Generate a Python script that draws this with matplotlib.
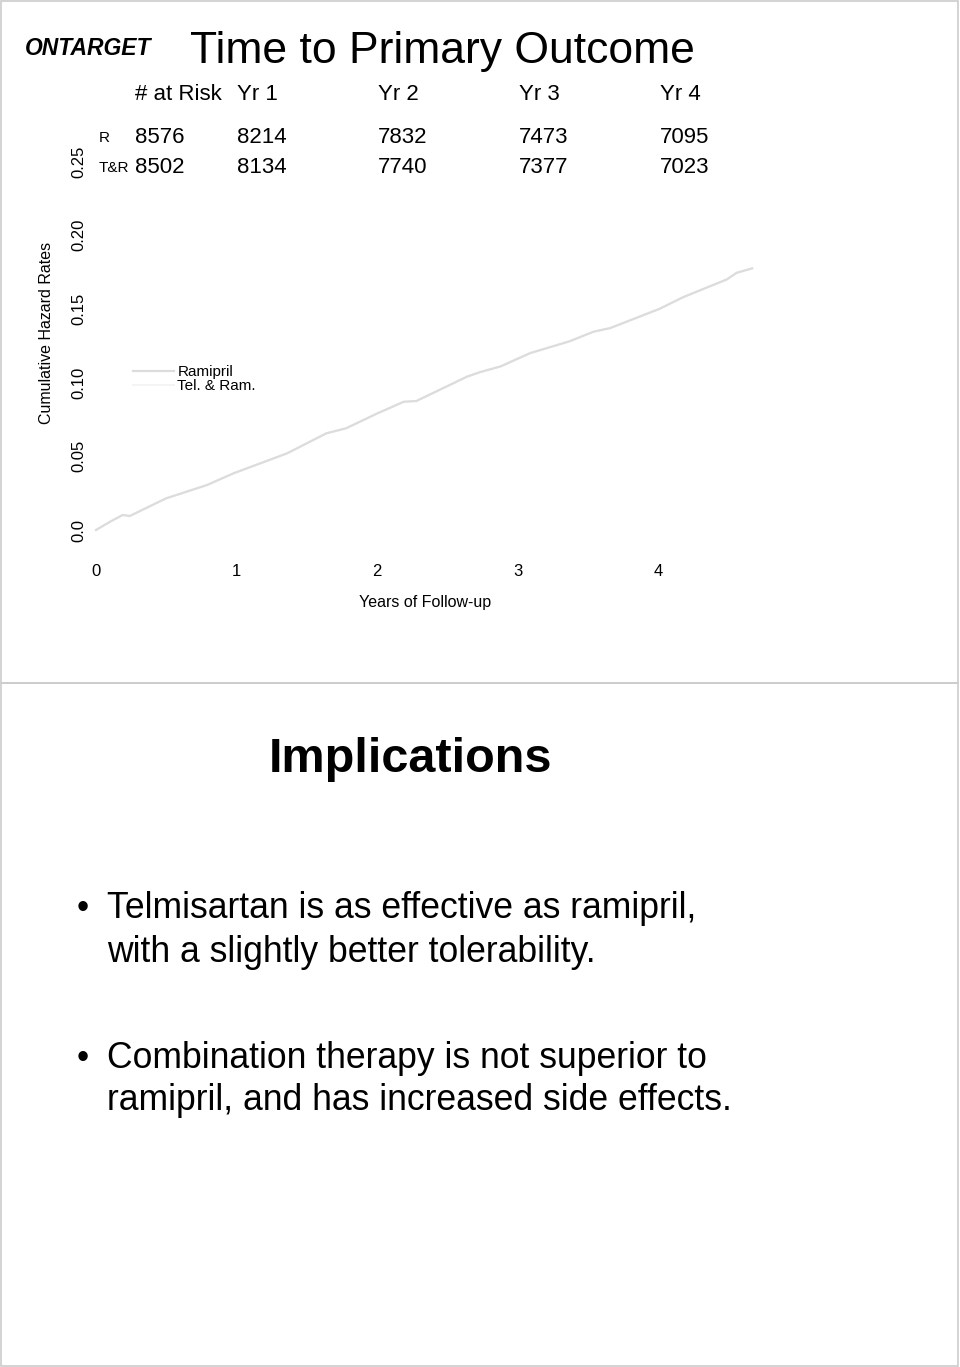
import matplotlib
matplotlib.use("Agg")
import matplotlib.pyplot as plt
from matplotlib.patches import Rectangle

plt.rcParams['font.family'] = ['Liberation Sans', 'DejaVu Sans']

W, H = 960, 1367

# cumulative hazard curves
years = [0.0, 0.10, 0.19, 0.24, 0.50, 0.79, 0.98, 1.36, 1.64, 1.78, 2.00, 2.19,
         2.28, 2.64, 2.73, 2.88, 3.09, 3.37, 3.54, 3.66, 4.01, 4.18, 4.49, 4.56, 4.67]
hazard_ram = [0.0, 0.0056, 0.0102, 0.0095, 0.0215, 0.0305, 0.0385, 0.052, 0.0656,
              0.069, 0.079, 0.087, 0.0875, 0.104, 0.107, 0.111, 0.120, 0.128, 0.1345,
              0.137, 0.150, 0.158, 0.170, 0.1745, 0.1775]
hazard_tr = [0.0, 0.0056, 0.0102, 0.0095, 0.0215, 0.0305, 0.0385, 0.052, 0.0656,
             0.069, 0.079, 0.087, 0.0875, 0.104, 0.107, 0.111, 0.120, 0.128, 0.1345,
             0.137, 0.150, 0.158, 0.170, 0.1745, 0.1775]
series_names = ["Ramipril", "Tel. & Ram."]

yticks = [0.0, 0.05, 0.10, 0.15, 0.20, 0.25]
ytick_labels = ["0.0", "0.05", "0.10", "0.15", "0.20", "0.25"]
xticks = [0, 1, 2, 3, 4]

# numbers at risk
risk_header = ["# at Risk", "Yr 1", "Yr 2", "Yr 3", "Yr 4"]
risk_groups = ["R", "T&R"]
risk_R = [8576, 8214, 7832, 7473, 7095]
risk_TR = [8502, 8134, 7740, 7377, 7023]

bullets = [["Telmisartan is as effective as ramipril,",
            "with a slightly better tolerability."],
           ["Combination therapy is not superior to",
            "ramipril, and has increased side effects."]]


def fx(px):
    return px / W


def fy(py):
    return 1 - py / H


fig = plt.figure(figsize=(W / 100, H / 100), dpi=100)

# slide frames
for top, bot in [(1, 683), (683, 1366)]:
    fig.patches.append(Rectangle((fx(1), fy(bot)), fx(957), (bot - top) / H,
                                 transform=fig.transFigure, fill=False,
                                 edgecolor="#cccccc", lw=1.2))

# ---- slide 1 : chart ----
left, right, top, bottom = 88, 780, 150, 545
ax = fig.add_axes([fx(left), fy(bottom), (right - left) / W, (bottom - top) / H])
ax.plot(years, hazard_tr, color="#f4f4f4", lw=1.4, label=series_names[1], zorder=2)
ax.plot(years, hazard_ram, color="#dcdcdc", lw=1.6, label=series_names[0], zorder=3)
ax.set_xlim((left - 96) / 140.5, (right - 96) / 140.5)
ax.set_ylim((530 - bottom) / 1474, (530 - top) / 1474)
for s in ax.spines.values():
    s.set_visible(False)
ax.set_xticks(xticks)
ax.set_xticklabels([str(t) for t in xticks], fontsize=12)
ax.set_yticks(yticks)
ax.set_yticklabels(ytick_labels, fontsize=12, rotation=90, va="center")
ax.tick_params(axis="x", length=0, pad=14)
ax.tick_params(axis="y", length=0, pad=1.5)
ax.set_xlabel("Years of Follow-up", fontsize=11.5)
ax.xaxis.set_label_coords((425 - left) / (right - left), -(595 - bottom) / (bottom - top))
ax.set_ylabel("Cumulative Hazard Rates", fontsize=11.5)
ax.yaxis.set_label_coords(-(left - 54) / (right - left), (bottom - 333) / (bottom - top))

handles, labels = ax.get_legend_handles_labels()
ax.legend(handles[::-1], labels[::-1], loc="upper left",
          bbox_to_anchor=(fx(133), fy(365)), bbox_transform=fig.transFigure,
          frameon=False, fontsize=11, borderpad=0, borderaxespad=0,
          handlelength=2.7, handletextpad=0.2, labelspacing=0.0)

fig.text(fx(25), fy(55), "ONTARGET", fontsize=16.5, fontweight="heavy", fontstyle="italic",
         va="baseline")
fig.text(fx(190), fy(63), "Time to Primary Outcome", fontsize=32, va="baseline")

col_x = [135, 237, 378, 519, 660]
for x, h in zip(col_x, risk_header):
    fig.text(fx(x), fy(100), h, fontsize=16, va="baseline")
for row_y, grp, vals in [(143, risk_groups[0], risk_R), (173, risk_groups[1], risk_TR)]:
    fig.text(fx(99), fy(row_y - 1), grp, fontsize=11, va="baseline")
    for x, v in zip(col_x, vals):
        fig.text(fx(x), fy(row_y), str(v), fontsize=16, va="baseline")

# ---- slide 2 : text ----
fig.text(fx(411), fy(772), "Implications", fontsize=35, fontweight="bold",
         ha="center", va="baseline")
baselines = [[918, 962], [1068, 1110]]
for lines, bl in zip(bullets, baselines):
    fig.text(fx(77), fy(bl[0]), "\u2022", fontsize=25, va="baseline")
    for line, b in zip(lines, bl):
        fig.text(fx(107), fy(b), line, fontsize=25.6, va="baseline")

fig.savefig("out.png", dpi=100)
